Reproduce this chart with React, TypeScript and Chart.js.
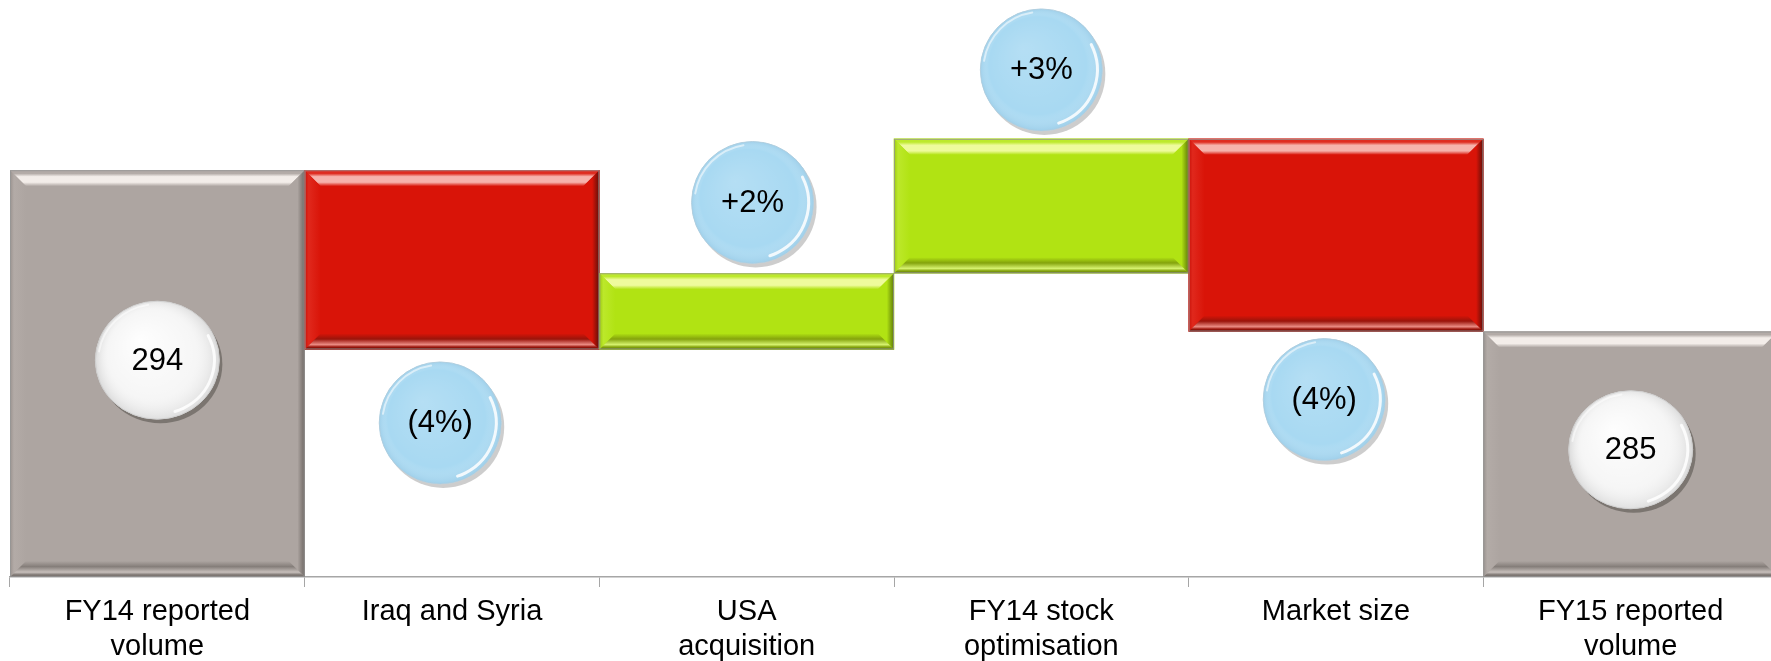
import React, { useEffect, useRef } from 'react';
import { Chart, registerables } from 'chart.js';

Chart.register(...registerables);

// ---- data ----
const categories: (string | string[])[] = [
  ['FY14 reported', 'volume'],
  'Iraq and Syria',
  ['USA', 'acquisition'],
  ['FY14 stock', 'optimisation'],
  'Market size',
  ['FY15 reported', 'volume'],
];
const startVolume = 294;
const changes = [-10, 4.25, 7.5, -10.75];
const endVolume = 285;
const bubbleLabels = ['294', '(4%)', '+2%', '+3%', '(4%)', '285'];
const bubbleX = [0, 0.96, 2.02, 3.0, 3.96, 5.0];
const bubbleY = [283.4, 279.9, 292.2, 299.6, 281.2, 278.4];
const yMin = 271.3;
const yMax = 303.5;

const FONT = '"Liberation Sans", Arial, sans-serif';

type Kind = 'total' | 'down' | 'up';
const palette: Record<Kind, any> = {
  total: { base: '#ADA5A1', topEdge: '#B3ABA7', topLight: '#F3EDE9', left: '#B3ABA7', leftEdge: '#9A928E', right: '#6F6864', bottom: '#857E7A', bottomLight: '#C7BFBB' },
  down: { base: '#D91408', topEdge: '#DF2C20', topLight: '#F6B3AC', left: '#E0281C', leftEdge: '#C8120A', right: '#5E0E08', bottom: '#9A140B', bottomLight: '#EB8B83' },
  up: { base: '#B1E313', topEdge: '#BDE92C', topLight: '#EEFB9C', left: '#BCE82A', leftEdge: '#9CC810', right: '#5E7A08', bottom: '#84A30C', bottomLight: '#D6F26E' },
};

// build floating bars from the values
const barData: [number, number][] = [];
const kinds: Kind[] = [];
barData.push([0, startVolume]);
kinds.push('total');
let running = startVolume;
changes.forEach((c) => {
  const next = running + c;
  barData.push([Math.min(running, next), Math.max(running, next)]);
  kinds.push(c < 0 ? 'down' : 'up');
  running = next;
});
barData.push([0, endVolume]);
kinds.push('total');

const bubbleIsTotal = [true, false, false, false, false, true];

const bevelPlugin = {
  id: 'bevel',
  afterDatasetDraw(chart: any, args: any) {
    if (args.index !== 0) return;
    const ctx = chart.ctx;
    const area = chart.chartArea;
    ctx.save();
    ctx.beginPath();
    ctx.rect(area.left, area.top, area.right - area.left, area.bottom - area.top);
    ctx.clip();
    args.meta.data.forEach((el: any, i: number) => {
      const p = el.getProps(['x', 'y', 'base', 'width'], true);
      const l = p.x - p.width / 2;
      const r = p.x + p.width / 2;
      const t = Math.min(p.y, p.base);
      const bt = Math.min(Math.max(p.y, p.base), area.bottom);
      const c = palette[kinds[i]];
      const b = Math.min(16, (bt - t) / 2, (r - l) / 2);
      // top
      let g = ctx.createLinearGradient(0, t, 0, t + b);
      g.addColorStop(0, c.topEdge);
      g.addColorStop(0.2, c.topEdge);
      g.addColorStop(0.4, c.topLight);
      g.addColorStop(0.75, c.topLight);
      g.addColorStop(1, c.base);
      ctx.fillStyle = g;
      ctx.beginPath();
      ctx.moveTo(l, t); ctx.lineTo(r, t); ctx.lineTo(r - b, t + b); ctx.lineTo(l + b, t + b); ctx.closePath();
      ctx.fill();
      // left
      g = ctx.createLinearGradient(l, 0, l + b, 0);
      g.addColorStop(0, c.leftEdge);
      g.addColorStop(0.25, c.left);
      g.addColorStop(1, c.base);
      ctx.fillStyle = g;
      ctx.beginPath();
      ctx.moveTo(l, t); ctx.lineTo(l + b, t + b); ctx.lineTo(l + b, bt - b); ctx.lineTo(l, bt); ctx.closePath();
      ctx.fill();
      // right
      g = ctx.createLinearGradient(r - b, 0, r, 0);
      g.addColorStop(0, c.base);
      g.addColorStop(0.55, c.base);
      g.addColorStop(1, c.right);
      ctx.fillStyle = g;
      ctx.beginPath();
      ctx.moveTo(r, t); ctx.lineTo(r, bt); ctx.lineTo(r - b, bt - b); ctx.lineTo(r - b, t + b); ctx.closePath();
      ctx.fill();
      // bottom
      g = ctx.createLinearGradient(0, bt - b, 0, bt);
      g.addColorStop(0, c.base);
      g.addColorStop(0.35, c.bottom);
      g.addColorStop(0.7, c.bottomLight);
      g.addColorStop(0.85, c.bottom);
      g.addColorStop(1, c.right);
      ctx.fillStyle = g;
      ctx.beginPath();
      ctx.moveTo(l, bt); ctx.lineTo(r, bt); ctx.lineTo(r - b, bt - b); ctx.lineTo(l + b, bt - b); ctx.closePath();
      ctx.fill();
      // outline
      ctx.strokeStyle = 'rgba(150,150,150,0.8)';
      ctx.lineWidth = 1;
      ctx.strokeRect(l + 0.5, t + 0.5, r - l - 1, bt - t - 1);
    });
    ctx.restore();
  },
};

const bubblePlugin = {
  id: 'bubbles',
  afterDatasetsDraw(chart: any) {
    const ctx = chart.ctx;
    const xs = chart.scales.x;
    const ys = chart.scales.y;
    ctx.save();
    bubbleLabels.forEach((label, i) => {
      const x = xs.getPixelForValue(bubbleX[i]);
      const y = ys.getPixelForValue(bubbleY[i]);
      const white = bubbleIsTotal[i];
      const rx = white ? 62 : 61;
      const ry = white ? 59 : 61;
      const r = Math.min(rx, ry);
      const shape = (dx: number, dy: number) => {
        ctx.beginPath();
        ctx.ellipse(x + dx, y + dy, rx, ry, 0, 0, Math.PI * 2);
      };
      // shadow
      shape(3, 4);
      ctx.fillStyle = white ? 'rgba(110,105,100,0.8)' : 'rgba(200,200,200,0.9)';
      ctx.fill();
      // base fill
      shape(0, 0);
      ctx.fillStyle = white ? '#F4F4F4' : '#A8D9F2';
      ctx.fill();
      ctx.strokeStyle = white ? '#D0D0D0' : '#BBD3E0';
      ctx.lineWidth = 1;
      ctx.stroke();
      // shading
      const g = ctx.createRadialGradient(x - r * 0.3, y - r * 0.35, 0, x, y, Math.max(rx, ry));
      if (white) {
        g.addColorStop(0, 'rgba(255,255,255,0.9)');
        g.addColorStop(0.7, 'rgba(255,255,255,0.2)');
        g.addColorStop(1, 'rgba(200,200,200,0.6)');
      } else {
        g.addColorStop(0, 'rgba(255,255,255,0.15)');
        g.addColorStop(0.8, 'rgba(255,255,255,0)');
        g.addColorStop(1, 'rgba(140,190,220,0.35)');
      }
      shape(0, 0);
      ctx.fillStyle = g;
      ctx.fill();
      // rim highlights
      ctx.lineCap = 'round';
      ctx.strokeStyle = 'rgba(255,255,255,0.85)';
      ctx.lineWidth = 3;
      ctx.beginPath();
      ctx.ellipse(x, y, rx - 5, ry - 5, 0, -0.15 * Math.PI, 0.4 * Math.PI);
      ctx.stroke();
      ctx.strokeStyle = 'rgba(255,255,255,0.55)';
      ctx.lineWidth = 2;
      ctx.beginPath();
      ctx.ellipse(x, y, rx - 3, ry - 3, 0, 1.05 * Math.PI, 1.45 * Math.PI);
      ctx.stroke();
      // label
      ctx.fillStyle = '#000';
      ctx.font = `31px ${FONT}`;
      ctx.textAlign = 'center';
      ctx.textBaseline = 'middle';
      ctx.fillText(label, x, y + 1);
    });
    ctx.restore();
  },
};

export default function App() {
  const ref = useRef<HTMLCanvasElement | null>(null);
  useEffect(() => {
    if (!ref.current) return;
    const chart = new Chart(ref.current, {
      type: 'bar',
      data: {
        labels: categories as any,
        datasets: [
          {
            data: barData as any,
            backgroundColor: kinds.map((k) => palette[k].base),
            borderWidth: 0,
            barPercentage: 1,
            categoryPercentage: 1,
            grouped: false,
          } as any,
        ],
      },
      options: {
        responsive: false,
        animation: false,
        layout: { autoPadding: false, padding: { left: 10, right: 2, top: 0, bottom: 0 } },
        plugins: { legend: { display: false }, tooltip: { enabled: false } },
        scales: {
          x: {
            type: 'category',
            offset: true,
            grid: { display: true, drawOnChartArea: false, drawTicks: true, tickLength: 10, color: '#A6A6A6', offset: true },
            border: { display: true, color: '#A6A6A6', width: 1.5 },
            ticks: { color: '#000', font: { family: FONT, size: 29, lineHeight: 1.207 }, padding: 7.5, maxRotation: 0, autoSkip: false },
            afterFit: (s: any) => { s.height = 84; s.paddingLeft = 0; s.paddingRight = 0; },
          },
          y: { display: false, min: yMin, max: yMax },
        },
      } as any,
      plugins: [bevelPlugin, bubblePlugin],
    });
    return () => chart.destroy();
  }, []);
  return (
    <div style={{ position: 'fixed', left: 0, top: 0, width: 1771, height: 661, overflow: 'hidden', background: '#fff' }}>
      <canvas ref={ref} width={1780} height={661} style={{ display: 'block' }} />
    </div>
  );
}
